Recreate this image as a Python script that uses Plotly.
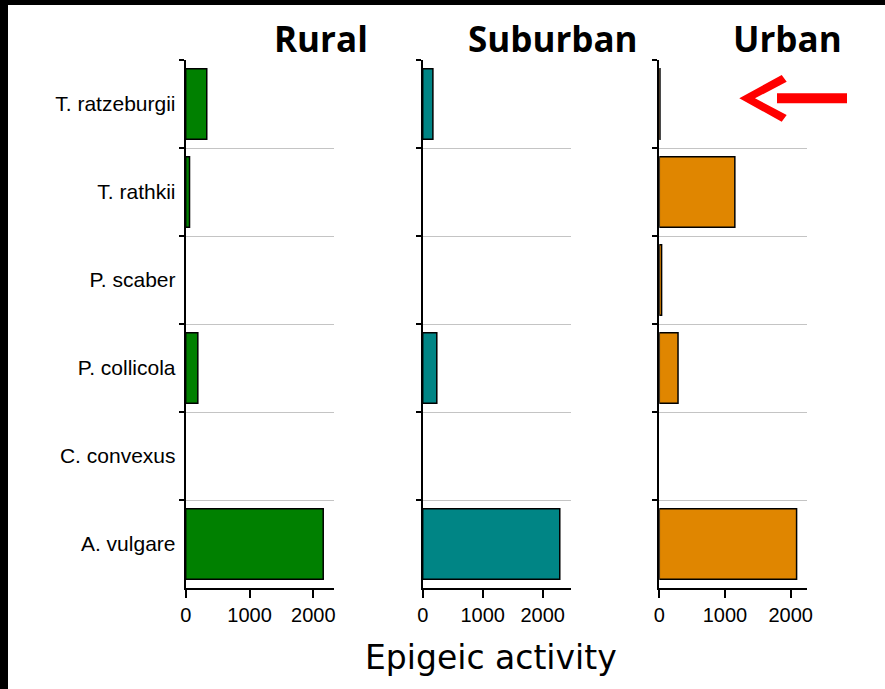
import plotly.graph_objects as go

W, H = 885, 689

categories = ["T. ratzeburgii", "T. rathkii", "P. scaber", "P. collicola", "C. convexus", "A. vulgare"]
rural = [330, 60, 0, 190, 0, 2155]
suburban = [170, 0, 0, 235, 0, 2285]
urban = [10, 1150, 35, 285, 0, 2090]
panel_titles = ["Rural", "Suburban", "Urban"]
x_ticks = [0, 1000, 2000]
x_label = "Epigeic activity"

series = [rural, suburban, urban]
colors = ["#008000", "#008585", "#E08600"]
x_ranges = [[0, 2324], [0, 2467], [0, 2253]]
x_domains_px = [(185.7, 334), (422.7, 570.7), (659.3, 807.3)]
title_centers_px = [321, 553, 787]

def px(x):
    return x / W

def py(y):
    return 1 - y / H

fig = go.Figure()

y_dom = [py(588), py(60)]
boundary_vals = [k - 0.5 for k in range(len(categories) + 1)]

for i, (vals, col) in enumerate(zip(series, colors)):
    n = "" if i == 0 else str(i + 1)
    fig.add_trace(go.Bar(
        x=vals, y=categories, orientation="h",
        marker=dict(color=col, line=dict(color="black",
                                         width=[0 if v == 0 else 1.5 for v in vals])),
        width=0.8,
        xaxis="x" + n, yaxis="y" + n, showlegend=False,
    ))
    d0, d1 = x_domains_px[i]
    fig.layout["xaxis" + n] = dict(
        domain=[px(d0), px(d1)], range=x_ranges[i], anchor="y" + n,
        tickvals=x_ticks, ticktext=[str(t) for t in x_ticks],
        ticks="outside", ticklen=8, tickwidth=2, tickcolor="black",
        showline=True, linecolor="black", linewidth=2,
        showgrid=False, zeroline=False, automargin=False,
        tickfont=dict(family="Liberation Sans, Arial", size=20, color="black"),
    )
    fig.layout["yaxis" + n] = dict(
        domain=y_dom, anchor="x" + n, type="category",
        categoryorder="array", categoryarray=categories,
        autorange="reversed", automargin=False,
        tickson="boundaries", ticks="outside", ticklen=5, tickwidth=2, tickcolor="black",
        showline=True, linecolor="black", linewidth=2,
        showgrid=True, gridcolor="#c4c4c4", gridwidth=1,
        showticklabels=(i == 0), ticklabelstandoff=4,
        tickfont=dict(family="Liberation Sans, Arial", size=21, color="black"),
    )
    # overlay axis giving the inner half of the crossing boundary ticks
    m = str(i + 4)
    fig.layout["yaxis" + m] = dict(
        domain=y_dom, anchor="x" + n, overlaying="y" + n, type="linear",
        range=[len(categories) - 0.5, -0.5], tickvals=boundary_vals,
        ticks="inside", ticklen=5, tickwidth=2, tickcolor="black",
        showticklabels=False, showline=False, showgrid=False, zeroline=False,
        automargin=False,
    )
    fig.add_annotation(
        x=px(title_centers_px[i]), y=py(39), xref="paper", yref="paper",
        text="<b>%s</b>" % panel_titles[i], showarrow=False,
        xanchor="center", yanchor="middle",
        font=dict(family="Open Sans", size=35, color="black"),
    )

fig.add_annotation(
    x=px(491), y=py(657), xref="paper", yref="paper",
    text=x_label, showarrow=False, xanchor="center", yanchor="middle",
    font=dict(family="DejaVu Sans", size=33, color="black"),
)

# decorative black frame edges
fig.add_shape(type="rect", xref="paper", yref="paper", x0=0, x1=px(8), y0=0, y1=1,
              fillcolor="black", line=dict(width=0), layer="above")
fig.add_shape(type="rect", xref="paper", yref="paper", x0=0, x1=1, y0=py(5), y1=1,
              fillcolor="black", line=dict(width=0), layer="above")

# red arrow annotation
fig.add_shape(type="rect", xref="paper", yref="paper", x0=px(777), x1=px(847),
              y0=py(103.3), y1=py(93.3), fillcolor="#ff0000", line=dict(width=0), layer="above")
pts = [(739.3, 98.3), (781.7, 75), (786.7, 81.7), (755, 98.3), (786.7, 115), (781.7, 121.7)]
path = "M " + " L ".join("%f,%f" % (px(a), py(b)) for a, b in pts) + " Z"
fig.add_shape(type="path", xref="paper", yref="paper", path=path,
              fillcolor="#ff0000", line=dict(width=0), layer="above")

fig.update_layout(
    width=W, height=H, margin=dict(l=0, r=0, t=0, b=0, autoexpand=False),
    paper_bgcolor="white", plot_bgcolor="white",
    bargap=0.2,
)

fig.write_html("out.html", config={"displayModeBar": False},
               post_script="document.body.style.margin='0';document.body.style.overflow='hidden';")
